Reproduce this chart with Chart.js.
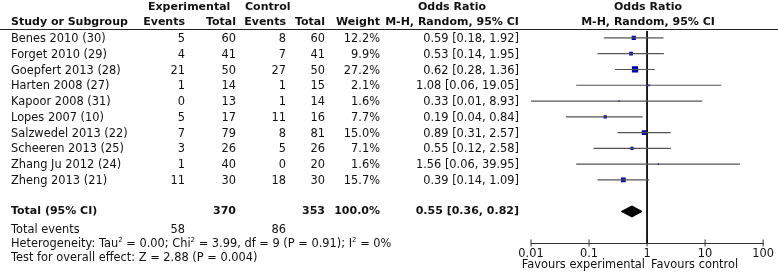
<!DOCTYPE html>
<html>
<head>
<meta charset="utf-8">
<script src="https://cdn.jsdelivr.net/npm/chart.js@4.4.1/dist/chart.umd.min.js"></script>
<style>
  body { margin: 0; background: #fff; }
  #wrap { position: relative; width: 778px; height: 274px; font-family: "DejaVu Sans", sans-serif; font-size: 11.4px; color: #111; }
  #plot { position: absolute; left: 0; top: 0; }
  .t { position: absolute; white-space: nowrap; line-height: 14px; height: 14px; }
  .r { text-align: right; }
  .c { text-align: center; }
  .b { font-weight: bold; font-size: 11px; }
  .rule { position: absolute; left: 0; top: 29px; width: 778px; height: 1px; background: #222; }
  sup { font-size: 7px; vertical-align: 5px; line-height: 0; }
</style>
</head>
<body>
<div id="wrap">
  <canvas id="plot" width="778" height="274"></canvas>
  <div class="rule"></div>
</div>
<script>
// study rows
const studies = ['Benes 2010 (30)', 'Forget 2010 (29)', 'Goepfert 2013 (28)', 'Harten 2008 (27)', 'Kapoor 2008 (31)',
  'Lopes 2007 (10)', 'Salzwedel 2013 (22)', 'Scheeren 2013 (25)', 'Zhang Ju 2012 (24)', 'Zheng 2013 (21)'];
const expEvents = [5, 4, 21, 1, 0, 5, 7, 3, 1, 11];
const expTotal = [60, 41, 50, 14, 13, 17, 79, 26, 40, 30];
const ctrlEvents = [8, 7, 27, 1, 1, 11, 8, 5, 0, 18];
const ctrlTotal = [60, 41, 50, 15, 14, 16, 81, 26, 20, 30];
const weights = [12.2, 9.9, 27.2, 2.1, 1.6, 7.7, 15.0, 7.1, 1.6, 15.7];
const oddsRatio = [0.59, 0.53, 0.62, 1.08, 0.33, 0.19, 0.89, 0.55, 1.56, 0.39];
const ciLow = [0.18, 0.14, 0.28, 0.06, 0.01, 0.04, 0.31, 0.12, 0.06, 0.14];
const ciHigh = [1.92, 1.95, 1.36, 19.05, 8.93, 0.84, 2.57, 2.58, 39.95, 1.09];

// pooled result
const pooledOR = 0.55;
const pooledLow = 0.36;
const pooledHigh = 0.82;
const totalExp = 370;
const totalCtrl = 353;
const eventsExp = 58;
const eventsCtrl = 86;

const xTicks = [0.01, 0.1, 1, 10, 100];

// layout helpers
const rowY0 = 38, rowStep = 15.77;
const totalRow = 11;
const yMin = -0.44, yMax = 13.0;
const wrap = document.getElementById('wrap');

function txt(s, x, y, cls, w) {
  const d = document.createElement('div');
  d.className = 't ' + (cls || '');
  d.innerHTML = s;
  d.style.top = (y - 7) + 'px';
  if (cls && cls.indexOf('r') >= 0) { d.style.left = (x - (w || 200)) + 'px'; d.style.width = (w || 200) + 'px'; }
  else if (cls && cls.indexOf('c') >= 0) { d.style.left = (x - (w || 200) / 2) + 'px'; d.style.width = (w || 200) + 'px'; }
  else d.style.left = x + 'px';
  wrap.appendChild(d);
}
const fmt = v => v.toFixed(2);

// headers
txt('Experimental', 148, 7, 'b');
txt('Control', 245, 7, 'b');
txt('Odds Ratio', 452, 7, 'b c');
txt('Odds Ratio', 648, 7, 'b c');
txt('Study or Subgroup', 11, 22, 'b');
txt('Events', 185, 22, 'b r');
txt('Total', 236, 22, 'b r');
txt('Events', 286, 22, 'b r');
txt('Total', 325, 22, 'b r');
txt('Weight', 380, 22, 'b r');
txt('M-H, Random, 95% CI', 452, 22, 'b c');
txt('M-H, Random, 95% CI', 648, 22, 'b c');

studies.forEach((s, i) => {
  const y = rowY0 + i * rowStep;
  txt(s, 11, y);
  txt(expEvents[i], 185, y, 'r');
  txt(expTotal[i], 236, y, 'r');
  txt(ctrlEvents[i], 286, y, 'r');
  txt(ctrlTotal[i], 325, y, 'r');
  txt(weights[i].toFixed(1) + '%', 380, y, 'r');
  txt(oddsRatio[i].toFixed(2) + ' [' + fmt(ciLow[i]) + ', ' + fmt(ciHigh[i]) + ']', 519, y, 'r');
});

const ty = rowY0 + totalRow * rowStep;
txt('Total (95% CI)', 11, ty, 'b');
txt(totalExp, 236, ty, 'b r');
txt(totalCtrl, 325, ty, 'b r');
txt('100.0%', 380, ty, 'b r');
txt(fmt(pooledOR) + ' [' + fmt(pooledLow) + ', ' + fmt(pooledHigh) + ']', 519, ty, 'b r');
txt('Total events', 11, 229);
txt(eventsExp, 185, 229, 'r');
txt(eventsCtrl, 286, 229, 'r');
txt('Heterogeneity: Tau<sup>2</sup> = 0.00; Chi<sup>2</sup> = 3.99, df = 9 (P = 0.91); I<sup>2</sup> = 0%', 11, 243);
txt('Test for overall effect: Z = 2.88 (P = 0.004)', 11, 257);
txt('Favours experimental', 645, 264, 'r');
txt('Favours control', 651, 264);

// chart datasets
const ciSets = studies.map((s, i) => ({
  data: [{ x: ciLow[i], y: i }, { x: ciHigh[i], y: i }],
  showLine: true, borderColor: '#555', borderWidth: 1.2, pointRadius: 0
}));
const squares = {
  data: oddsRatio.map((v, i) => ({ x: v, y: i })),
  pointStyle: 'rect',
  pointRadius: weights.map(w => 1.2 * Math.sqrt(w) / Math.SQRT2),
  backgroundColor: '#0000b4', borderColor: '#0000b4', borderWidth: 0
};
const dh = 0.35;
const diamond = {
  data: [{ x: pooledLow, y: totalRow }, { x: pooledOR, y: totalRow - dh }, { x: pooledHigh, y: totalRow },
    { x: pooledOR, y: totalRow + dh }, { x: pooledLow, y: totalRow }],
  showLine: true, fill: 'shape', backgroundColor: '#000', borderColor: '#000', borderWidth: 1, pointRadius: 0
};
const noEffect = {
  data: [{ x: 1, y: yMin }, { x: 1, y: yMax }],
  showLine: true, borderColor: '#000', borderWidth: 1, pointRadius: 0
};
const tickMarks = {
  data: xTicks.map(v => ({ x: v, y: yMax })),
  pointStyle: 'line', rotation: 90, pointRadius: 3.5, borderColor: '#333', borderWidth: 1, clip: false
};

new Chart(document.getElementById('plot'), {
  type: 'scatter',
  data: { datasets: [...ciSets, noEffect, diamond, squares, tickMarks] },
  options: {
    responsive: false,
    animation: false,
    devicePixelRatio: 1,
    layout: { padding: { left: 531, right: 12, top: 31, bottom: 0 } },
    plugins: { legend: { display: false }, tooltip: { enabled: false } },
    scales: {
      x: {
        type: 'logarithmic', min: 0.01, max: 100,
        afterBuildTicks: sc => { sc.ticks = xTicks.map(v => ({ value: v })); },
        afterFit: sc => { sc.height = 31; },
        grid: { display: false, drawTicks: false },
        border: { display: true, color: '#333', width: 1 },
        ticks: { padding: 4, color: '#111', font: { family: 'DejaVu Sans', size: 11.4 }, maxRotation: 0,
          callback: v => String(v) }
      },
      y: {
        type: 'linear', min: yMin, max: yMax, reverse: true, display: false
      }
    }
  }
});
</script>
</body>
</html>
